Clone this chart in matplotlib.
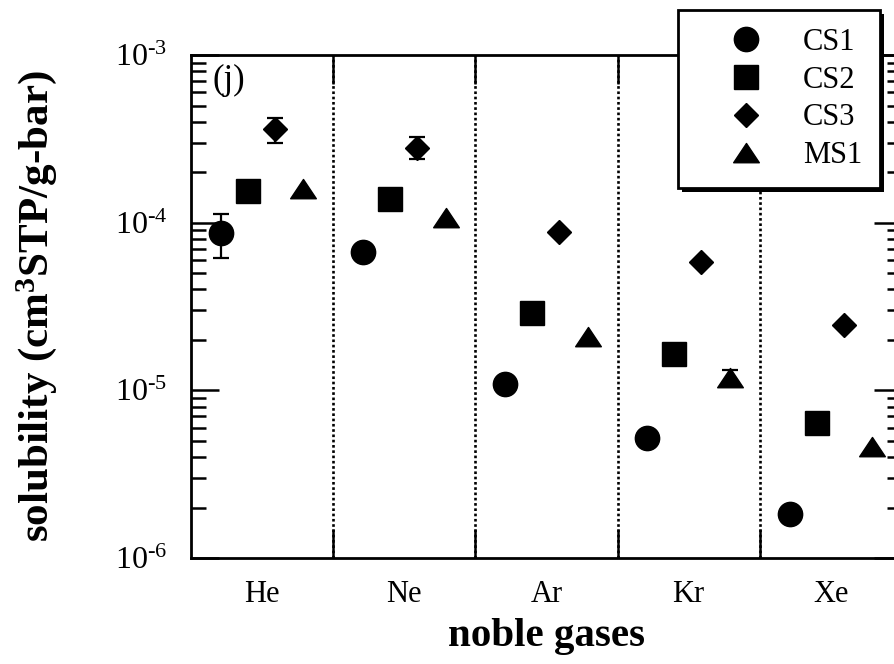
import numpy as np
import matplotlib
matplotlib.use('Agg')
import matplotlib.pyplot as plt
from matplotlib.ticker import LogLocator, FixedLocator, NullFormatter, FixedFormatter
from matplotlib.patches import Rectangle
from matplotlib.transforms import IdentityTransform
from matplotlib.path import Path

plt.rcParams['font.family'] = ['Liberation Serif', 'DejaVu Serif']
plt.rcParams['mathtext.fontset'] = 'custom'
plt.rcParams['mathtext.rm'] = 'Liberation Serif'
plt.rcParams['mathtext.it'] = 'Liberation Serif:italic'
plt.rcParams['mathtext.bf'] = 'Liberation Serif:bold'

# data
gases = ['He', 'Ne', 'Ar', 'Kr', 'Xe']
series = ['CS1', 'CS2', 'CS3', 'MS1']
cs1 = [8.7e-5, 6.7e-5, 1.09e-5, 5.2e-6, 1.83e-6]
cs2 = [1.55e-4, 1.39e-4, 2.91e-5, 1.64e-5, 6.4e-6]
cs3 = [3.6e-4, 2.79e-4, 8.8e-5, 5.8e-5, 2.44e-5]
ms1 = [1.59e-4, 1.06e-4, 2.09e-5, 1.19e-5, 4.6e-6]
# error bar limits (None = no bar drawn)
cs1_lo = [6.2e-5, None, None, None, None]
cs1_hi = [1.13e-4, None, None, None, None]
cs3_lo = [3.0e-4, 2.4e-4, None, None, None]
cs3_hi = [4.2e-4, 3.25e-4, None, None, None]
ms1_lo = [None, None, None, 1.07e-5, None]
ms1_hi = [None, None, None, 1.33e-5, None]
ytick_labels = ['10$^{\\text{-6}}$', '10$^{\\text{-5}}$',
                '10$^{\\text{-4}}$', '10$^{\\text{-3}}$']

offsets = [0.21, 0.40, 0.59, 0.79]

tri = Path([(-1, -0.72), (1, -0.72), (0, 0.78), (-1, -0.72)],
           [Path.MOVETO, Path.LINETO, Path.LINETO, Path.CLOSEPOLY])
styles = [dict(marker='o', ms=17.5),
          dict(marker='s', ms=17.5),
          dict(marker='D', ms=12.2),
          dict(marker=tri, ms=18.5)]

fig = plt.figure(figsize=(8.95, 6.64), dpi=100)
ax = fig.add_axes([0.2134, 0.1596, 0.7944, 0.7575])

x_base = np.arange(len(gases))
values = [cs1, cs2, cs3, ms1]
lows = [cs1_lo, None, cs3_lo, ms1_lo]
highs = [cs1_hi, None, cs3_hi, ms1_hi]

for k, (name, vals) in enumerate(zip(series, values)):
    xs = x_base + offsets[k]
    ax.plot(xs, vals, linestyle='none', color='black', label=name,
            zorder=4, **styles[k])
    if lows[k] is not None:
        for i in range(len(gases)):
            if lows[k][i] is None:
                continue
            err = [[vals[i] - lows[k][i]], [highs[k][i] - vals[i]]]
            ax.errorbar([xs[i]], [vals[i]], yerr=err, fmt='none',
                        ecolor='black', elinewidth=1.6, capsize=5.5,
                        capthick=1.6, zorder=3)

# category separators
for b in range(1, len(gases)):
    ax.axvline(b, color='black', lw=1.9, ls=(0, (1, 1)), zorder=1)

ax.set_yscale('log')
ax.set_ylim(1e-6, 1e-3)
ax.set_xlim(0, len(gases))

ax.yaxis.set_minor_locator(LogLocator(base=10, subs=np.arange(2, 10), numticks=10))
ax.yaxis.set_minor_formatter(NullFormatter())
ax.yaxis.set_major_locator(FixedLocator([1e-6, 1e-5, 1e-4, 1e-3]))
ax.yaxis.set_major_formatter(FixedFormatter(ytick_labels))

ax.xaxis.set_major_locator(FixedLocator(x_base + 0.5))
ax.xaxis.set_major_formatter(FixedFormatter(gases))
ax.xaxis.set_minor_locator(FixedLocator(np.arange(1, len(gases))))

ax.tick_params(axis='y', which='major', direction='in', length=20, width=1.8,
               left=True, right=True, labelsize=23, pad=17)
ax.tick_params(axis='y', which='minor', direction='in', length=11, width=1.8,
               left=True, right=True)
ax.tick_params(axis='x', which='major', length=0, labelsize=22, pad=16)
ax.tick_params(axis='x', which='minor', direction='in', length=21, width=1.8,
               bottom=True, top=True)

for sp in ax.spines.values():
    sp.set_linewidth(2.0)

ax.set_ylabel('solubility (cm$^{\\mathbf{3}}$STP/g-bar)', fontsize=31,
              fontweight='bold', labelpad=40)
ax.set_xlabel('noble gases', fontsize=29.5, fontweight='bold', labelpad=6)

ax.text(0.15, 6.3e-4, '(j)', fontsize=25)

leg = fig.legend(loc='upper left',
                 bbox_to_anchor=(678 / 895, 0.0, 202 / 895, 654 / 664),
                 bbox_transform=fig.transFigure, mode='expand',
                 fontsize=22, frameon=True,
                 fancybox=False, edgecolor='black', framealpha=1,
                 borderpad=0.58, handlelength=3.3, handletextpad=0.2,
                 labelspacing=0.29, borderaxespad=0, numpoints=1)
leg.get_frame().set_linewidth(2.0)
leg.set_zorder(10)

# hard black drop shadow behind the legend box
fig.canvas.draw()
bb = leg.get_window_extent()
shadow = Rectangle((bb.x0 + 4, bb.y0 - 4), bb.width, bb.height,
                   transform=IdentityTransform(), facecolor='black',
                   edgecolor='none', zorder=9)
fig.add_artist(shadow)

fig.savefig('out.png', dpi=100)
